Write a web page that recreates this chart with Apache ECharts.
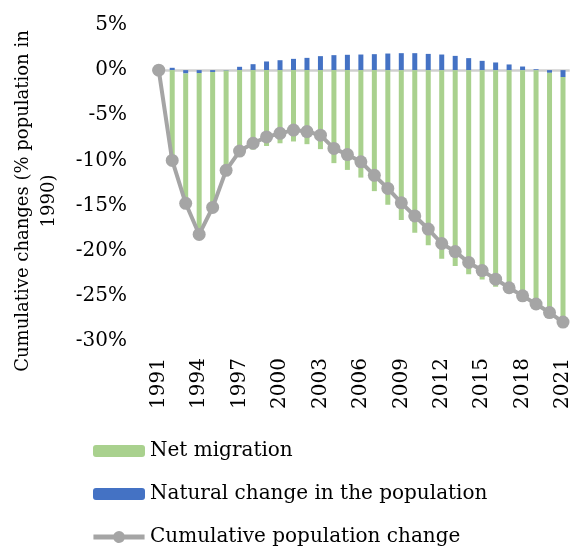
<!DOCTYPE html>
<html>
<head>
<meta charset="utf-8">
<script src="https://cdn.jsdelivr.net/npm/echarts@6/dist/echarts.min.js"></script>
<style>html,body{margin:0;padding:0;background:#fff}#c{width:573px;height:548px}</style>
</head>
<body>
<div id="c"></div>
<script>
const years = ['1991','1992','1993','1994','1995','1996','1997','1998','1999','2000','2001','2002','2003','2004','2005','2006','2007','2008','2009','2010','2011','2012','2013','2014','2015','2016','2017','2018','2019','2020','2021'];
const netMigration = [0, -10.3, -14.4, -17.9, -15.0, -11.05, -9.3, -8.8, -8.4, -8.1, -7.9, -8.2, -8.75, -10.3, -11.05, -11.9, -13.4, -14.9, -16.6, -18.0, -19.4, -20.9, -21.7, -22.6, -23.2, -24.0, -24.7, -25.4, -26.0, -26.55, -27.1];
const naturalChange = [0, 0.26, -0.37, -0.33, -0.2, -0.05, 0.37, 0.66, 0.96, 1.1, 1.25, 1.36, 1.55, 1.66, 1.7, 1.73, 1.77, 1.84, 1.88, 1.88, 1.8, 1.73, 1.58, 1.33, 1.03, 0.85, 0.63, 0.4, 0.1, -0.3, -0.77];
const cumulativeChange = [0, -10.0, -14.75, -18.2, -15.2, -11.1, -8.96, -8.1, -7.4, -7.0, -6.64, -6.8, -7.2, -8.67, -9.35, -10.15, -11.65, -13.1, -14.7, -16.15, -17.6, -19.2, -20.1, -21.3, -22.2, -23.15, -24.1, -25.0, -25.9, -26.85, -27.9];
const yTitle = 'Cumulative changes (% population in\n1990)';
const names = ['Net migration', 'Natural change in the population', 'Cumulative population change'];

const FONT = 'DejaVu Serif';
const GRAY = '#a5a5a5';
// legend icon: thick line with a circle in the middle
const LINE_DOT_ICON = 'path://M0,3.5L20.5,3.5A6,6,0,0,1,31.5,3.5L52,3.5L52,8.5L31.5,8.5A6,6,0,0,1,20.5,8.5L0,8.5Z';
const chart = echarts.init(document.getElementById('c'), null, {renderer: 'canvas'});
chart.setOption({
  animation: false,
  backgroundColor: '#fff',
  textStyle: {fontFamily: FONT},
  grid: {left: 152, right: 3, top: 25, bottom: 207, containLabel: false},
  legend: {
    orient: 'vertical', left: 93, top: 441, padding: 0,
    itemWidth: 52, itemHeight: 12, itemGap: 23,
    data: [
      {name: names[0]},
      {name: names[1]},
      {name: names[2], icon: LINE_DOT_ICON, itemStyle: {color: GRAY, borderWidth: 0}}
    ],
    textStyle: {fontFamily: FONT, fontSize: 20, color: '#000'}
  },
  graphic: [{
    type: 'text', x: 36, y: 201, rotation: Math.PI / 2,
    style: {text: yTitle, font: '18px "DejaVu Serif"', fill: '#000', textAlign: 'center', textVerticalAlign: 'middle', lineHeight: 26}
  }],
  xAxis: {
    type: 'category', data: years, boundaryGap: true,
    axisLine: {show: false, onZero: false}, axisTick: {show: false},
    axisLabel: {interval: 2, rotate: 90, margin: 17, fontFamily: FONT, fontSize: 20, color: '#000'}
  },
  yAxis: {
    type: 'value', min: -30, max: 5, interval: 5,
    splitLine: {show: false},
    axisLine: {show: false}, axisTick: {show: false},
    axisLabel: {formatter: '{value}%', margin: 25, fontFamily: FONT, fontSize: 20, color: '#000'}
  },
  series: [
    {
      name: names[1], type: 'bar', stack: 'pop', data: naturalChange, barWidth: 5,
      itemStyle: {color: '#4472c4'}
    },
    {
      name: names[0], type: 'bar', stack: 'pop', data: netMigration, barWidth: 5,
      itemStyle: {color: '#a9d18e'}
    },
    {
      name: names[2], type: 'line', data: cumulativeChange, z: 5,
      symbol: 'none',
      lineStyle: {color: GRAY, width: 4},
      itemStyle: {color: GRAY},
      markLine: {
        silent: true, symbol: ['none', 'none'], label: {show: false}, z: 1,
        lineStyle: {color: '#d0d0d0', width: 2.5, type: 'solid', opacity: 1},
        emphasis: {disabled: true},
        data: [{yAxis: 0}]
      }
    },
    {
      name: names[2], type: 'scatter', data: cumulativeChange, z: 6,
      symbol: 'circle', symbolSize: 13,
      itemStyle: {color: GRAY, borderWidth: 0, opacity: 1}
    }
  ]
});
</script>
</body>
</html>
